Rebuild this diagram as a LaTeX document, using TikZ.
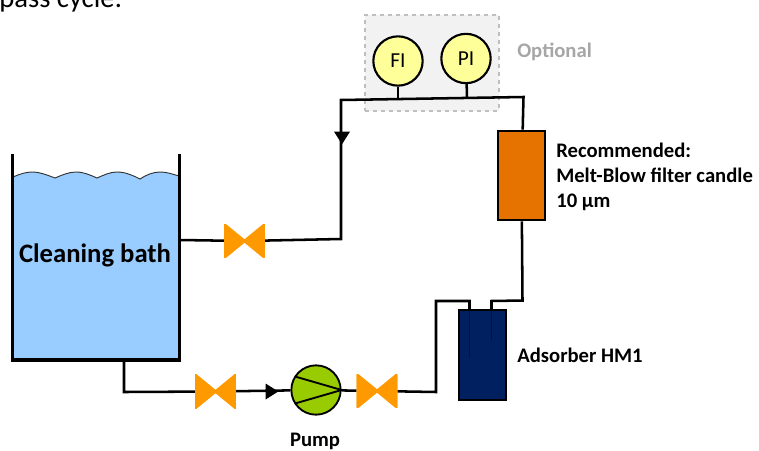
\documentclass[tikz,border=0pt]{standalone}
\usepackage{fontspec}
\setmainfont{Carlito}
\usetikzlibrary{positioning, shapes.geometric}

\definecolor{bathblue}{HTML}{99CCFF}
\definecolor{valveorange}{HTML}{FF9900}
\definecolor{pumpgreen}{HTML}{99CC00}
\definecolor{filterorange}{HTML}{E67300}
\definecolor{adsorberblue}{HTML}{002060}
\definecolor{gaugeyellow}{HTML}{FFFF99}

\begin{document}
\begin{tikzpicture}[
    x=0.75pt, y=-0.75pt,
    % Pipes and vessel walls
    pipe/.style={line width=1.9pt, color=black, line join=miter},
    wall/.style={line width=2.6pt, color=black},
    % Bow-tie valves
    valve/.style={rectangle, minimum width=30.5pt, minimum height=25pt, inner sep=0pt,
        path picture={\filldraw[valveorange, line width=2pt] (path picture bounding box.north west) -- (path picture bounding box.south east)
            -- (path picture bounding box.north east) -- (path picture bounding box.south west) -- cycle;}},
    % Round instruments
    gauge/.style={circle, draw=black, fill=gaugeyellow, minimum size=37pt, inner sep=0pt, line width=1.6pt, font=\fontsize{16}{16}\selectfont},
    % Flow direction marks
    flowmark/.style={isosceles triangle, isosceles triangle stretches, fill=black, inner sep=0pt, minimum width=12pt, minimum height=9.5pt},
    vessel/.style={rectangle, draw=black, line width=1.7pt, inner sep=0pt, minimum width=35pt, minimum height=67pt},
    caption/.style={font=\fontsize{15.5}{18.75}\selectfont\bfseries, align=left}
]
    \path[clip, use as bounding box] (0,0) rectangle (759,450);

    % --- TEXT ABOVE ---
    \node[anchor=base west, inner sep=0pt, font=\fontsize{21.5}{22}\selectfont] (cycletext) at (-1,7) {pass cycle:};

    % --- OPTIONAL BOX ---
    \node[rectangle, draw=black!25, fill=black!5, dashed, line width=1.5pt, minimum width=100pt, minimum height=72pt, inner sep=0pt] (optbox) at (432,62.5) {};
    \node[caption, text=black!35, anchor=west, inner sep=0pt] (optlabel) at (517,52) {Optional};

    % --- BATH ---
    \fill[bathblue] (13,177) .. controls (20,174) and (26,172) .. (32,172) .. controls (40,172) and (47,175) .. (55,178)
        .. controls (62,175) and (69,172) .. (76,172) .. controls (84,172) and (90,175) .. (97,178)
        .. controls (104,175) and (110,172) .. (117,172) .. controls (125,172) and (132,175) .. (140,179)
        .. controls (146,175) and (153,172) .. (160,172) .. controls (167,172) and (172,174) .. (179,176)
        -- (179,359) -- (13,359) -- cycle;
    \draw[line width=0.7pt, color=black!80] (13,177) .. controls (20,174) and (26,172) .. (32,172) .. controls (40,172) and (47,175) .. (55,178)
        .. controls (62,175) and (69,172) .. (76,172) .. controls (84,172) and (90,175) .. (97,178)
        .. controls (104,175) and (110,172) .. (117,172) .. controls (125,172) and (132,175) .. (140,179)
        .. controls (146,175) and (153,172) .. (160,172) .. controls (167,172) and (172,174) .. (179,176);
    \draw[wall] (12.5,154) -- (12.5,360) -- (179.5,360) -- (179.5,154);
    \node[font=\fontsize{20}{20}\selectfont\bfseries, inner sep=0pt] (bath) at (95,255) {Cleaning bath};

    % --- FITTINGS ---
    \coordinate (bathout) at (180,240);
    \coordinate (bathdrain) at (124,361);
    \node[valve] (V1) at (244.5,241) {};
    \node[valve] (V2) at (215.5,391.5) {};
    \node[valve] (V3) at (377,391) {};
    \node[circle, draw=black, fill=pumpgreen, minimum size=37pt, inner sep=0pt, line width=1.4pt] (pump) at (316,390) {};
    \draw[line width=1.4pt] (295,376.5) -- (pump.east) -- (295,403.5);
    \node[caption, inner sep=0pt] (pumplabel) at (315,441) {Pump};

    % --- FILTER AND ADSORBER ---
    \node[vessel, fill=filterorange] (filter) at (521.5,175.5) {};
    \node[caption, anchor=west, inner sep=0pt] (filterlabel) at (556,176.5) {Recommended:\\Melt-Blow filter candle\\10 µm};
    \node[vessel, fill=adsorberblue] (adsorber) at (482.5,355) {};
    \node[caption, anchor=west, inner sep=0pt] (adsorberlabel) at (517,355) {Adsorber HM1};
    \draw[line width=0.5pt, color=black!40!adsorberblue] (469.5,311) -- (469.5,358);
    \draw[line width=0.5pt, color=black!40!adsorberblue] (491.5,311) -- (491.5,340);

    % --- INSTRUMENTS ---
    \node[gauge] (FI) at (398,61) {FI};
    \node[gauge] (PI) at (466,58.5) {PI};

    % --- PIPE RUNS ---
    \coordinate (riserlow) at (341,239);
    \coordinate (risertop) at (341,100);
    \coordinate (linetop) at (523.5,97);
    \coordinate (teeFI) at (398,99);
    \coordinate (teePI) at (467,98);
    \draw[pipe] (bathout) -- (V1);
    \draw[pipe] (V1) -- (riserlow) -- (risertop) -- (linetop) -- (filter);
    \draw[pipe] (FI) -- (teeFI);
    \draw[pipe] (PI) -- (teePI);

    \coordinate (outA) at (522.5,300.5);
    \coordinate (outB) at (491.5,301);
    \coordinate (inA) at (469.5,301);
    \coordinate (inB) at (436,301);
    \coordinate (inC) at (436,392);
    \coordinate (drainB) at (124,392);
    \coordinate (inTop) at (469.5,310);
    \coordinate (outTop) at (491.5,310);
    \draw[pipe] (filter) -- (outA) -- (outB) -- (outTop);
    \draw[pipe] (inTop) -- (inA) -- (inB) -- (inC) -- (V3);
    \draw[pipe] (V3) -- (pump);
    \draw[pipe] (pump) -- (V2);
    \draw[pipe] (V2) -- (drainB) -- (bathdrain);

    % --- FLOW MARKS ---
    \node[flowmark] (markA) at (270,391.5) {};
    \node[flowmark, shape border rotate=-90] (markB) at (342,136) {};

\end{tikzpicture}
\end{document}
